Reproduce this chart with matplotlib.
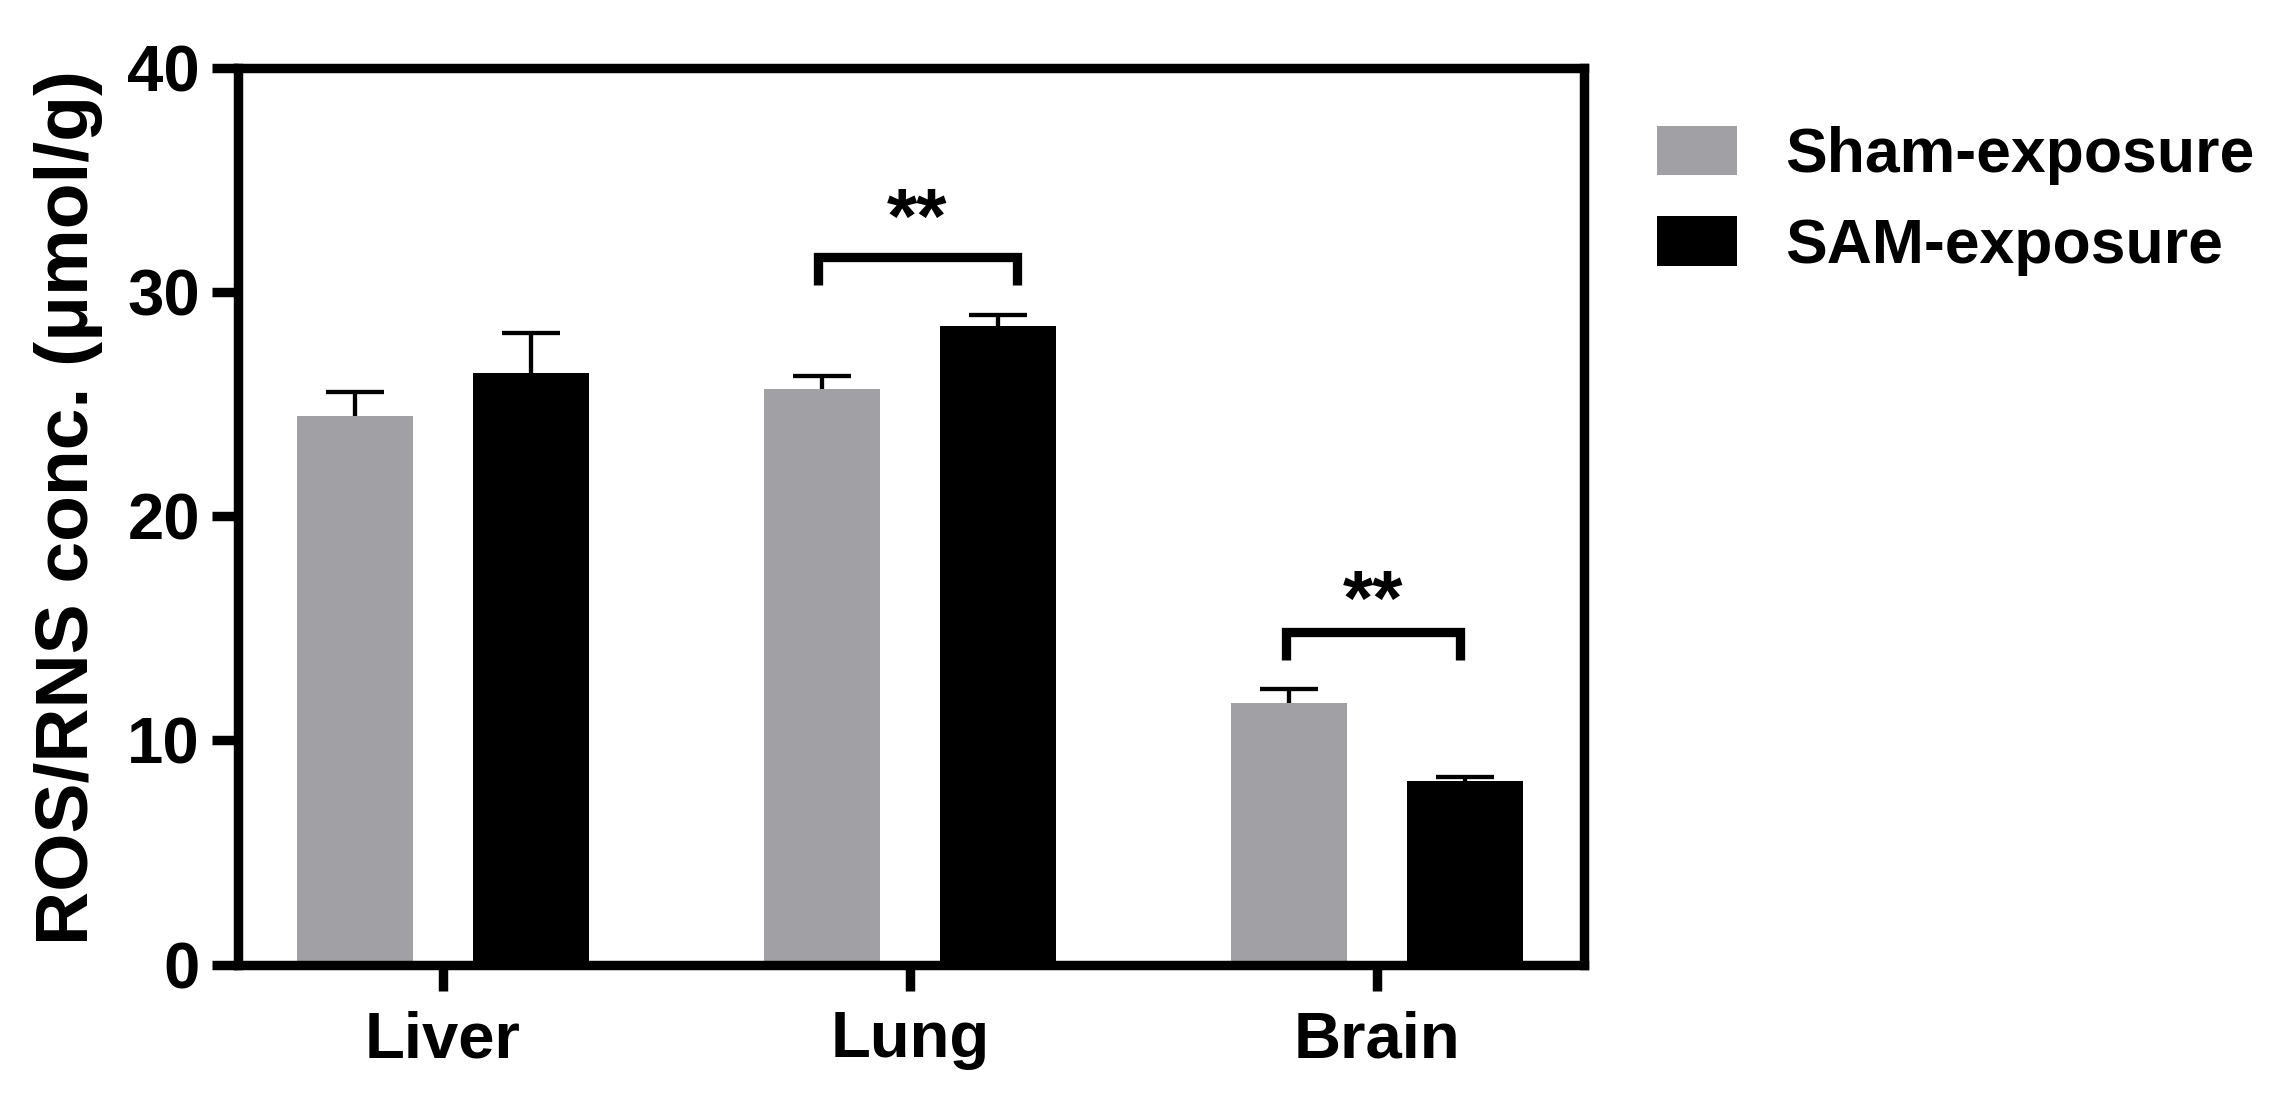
import matplotlib
matplotlib.use('Agg')
import matplotlib.pyplot as plt
import numpy as np

# data
tissues = ['Liver', 'Lung', 'Brain']
sham = [24.47, 25.66, 11.68]
sham_err = [1.07, 0.60, 0.61]
sam = [26.41, 28.48, 8.18]
sam_err = [1.76, 0.49, 0.20]
series_names = ['Sham-exposure', 'SAM-exposure']

# significance brackets: (x left, x right), y of bar, label, star lift
bracket_x = [(0.803, 1.229), (1.805, 2.178)]
bracket_y = [31.56, 14.84]
bracket_txt = ['**', '**']
star_lift = [0.65, 0.32]

plt.rcParams['font.family'] = ['Liberation Sans', 'DejaVu Sans']
plt.rcParams['font.weight'] = 'bold'

fig = plt.figure(figsize=(22.85, 11.01), dpi=100)
ax = fig.add_axes([238/2285, 1 - 964.6/1101, (1583.5-238)/2285, (964.6-68)/1101])

x = np.arange(len(tissues))
w = 0.248
off = 0.1885
gray = '#a1a1a5'

# error bars sit behind the bars, so only the upper half shows
ekw = dict(elinewidth=3.1, capthick=3.1, ecolor='black', zorder=1)
ax.errorbar(x - off, sham, yerr=sham_err, fmt='none', capsize=21, **ekw)
ax.errorbar(x + off, sam, yerr=sam_err, fmt='none', capsize=21, **ekw)
ax.bar(x - off, sham, w, color=gray, label=series_names[0], zorder=2)
ax.bar(x + off, sam, w, color='black', label=series_names[1], zorder=2)

# brackets and stars
for (xl, xr), yb, t, lift in zip(bracket_x, bracket_y, bracket_txt, star_lift):
    ax.plot([xl, xl, xr, xr], [yb - 1.26, yb, yb, yb - 1.26], color='black',
            lw=6.7, solid_joinstyle='miter', solid_capstyle='butt', clip_on=False)
    ax.text((xl + xr) / 2, yb + lift, t, ha='center', va='baseline',
            fontsize=56, fontweight='bold')

ax.set_xlim(-0.439, 2.442)
ax.set_ylim(0, 40)
ax.set_yticks([0, 10, 20, 30, 40])
ax.set_xticks(x)
ax.set_xticklabels(tissues)

for s in ax.spines.values():
    s.set_linewidth(6.8)
ax.tick_params(axis='both', length=19, width=6.8, labelsize=47, pad=8.5)
ax.tick_params(axis='x', pad=14)
for lab in ax.get_xticklabels() + ax.get_yticklabels():
    lab.set_fontweight('bold')

ax.set_ylabel('ROS/RNS conc. (μmol/g)', fontsize=54, fontweight='bold')
ax.yaxis.set_label_coords(-0.100, 0.51)

fig.legend(loc='upper left', bbox_to_anchor=(0.725, 0.886), frameon=False,
           prop={'weight': 'bold', 'size': 45},
           handlelength=1.28, handleheight=0.85, handletextpad=0.77,
           labelspacing=0.5, borderpad=0, borderaxespad=0)

fig.savefig('out.png', dpi=100)
